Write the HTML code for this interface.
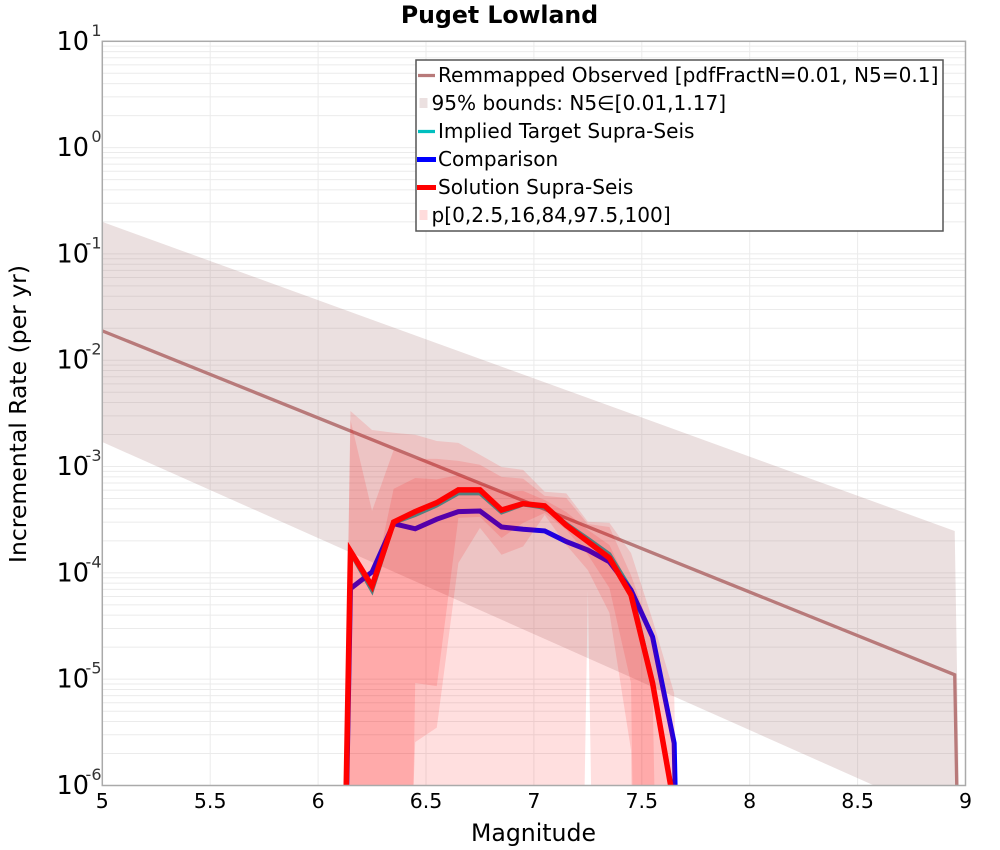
<!DOCTYPE html>
<html>
<head>
<meta charset="utf-8">
<title>Puget Lowland</title>
<style>
html,body{margin:0;padding:0;background:#fff;width:1000px;height:850px;overflow:hidden;}
svg{display:block;font-family:"DejaVu Sans","Liberation Sans",sans-serif;}
</style>
</head>
<body>
<svg id="chart" xmlns="http://www.w3.org/2000/svg" width="1000" height="850" viewBox="0 0 1000 850">
  <defs><clipPath id="plot-clip"><rect x="102.3" y="41.3" width="863.2" height="744.2"></rect></clipPath></defs>
  <text x="499.5" y="23" text-anchor="middle" font-size="23.6" font-weight="bold" fill="#000">Puget Lowland</text>
  <g id="grid"></g>
  <g id="series" clip-path="url(#plot-clip)"></g>
  <rect x="102.3" y="41.3" width="863.2" height="744.2" fill="none" stroke="#aaaaaa" stroke-width="1.5"></rect>
  <g id="ticks"></g>
  <text x="533.5" y="841" text-anchor="middle" font-size="23.6" fill="#000">Magnitude</text>
  <text transform="translate(26,414) rotate(-90)" text-anchor="middle" font-size="23.5" fill="#000">Incremental Rate (per yr)</text>
  <g>
    <rect x="416" y="60" width="527" height="171" fill="#fff" stroke="#555555" stroke-width="1.5"></rect>
    <line x1="418" x2="435" y1="75.5" y2="75.5" stroke="#b87a7a" stroke-width="3.3"></line>
    <text x="438" y="82" font-size="20.08">Remmapped Observed [pdfFractN=0.01, N5=0.1]</text>
    <rect x="419.5" y="98" width="8" height="10" fill="#ebe0e0"></rect>
    <text x="431.5" y="110" font-size="20.08">95% bounds: N5∈[0.01,1.17]</text>
    <line x1="418" x2="435" y1="131.5" y2="131.5" stroke="#00bfbf" stroke-width="3.3"></line>
    <text x="438" y="138" font-size="20.08">Implied Target Supra-Seis</text>
    <line x1="417" x2="436" y1="159.5" y2="159.5" stroke="#0000ff" stroke-width="5"></line>
    <text x="438" y="166" font-size="20.08">Comparison</text>
    <line x1="417" x2="436" y1="187.5" y2="187.5" stroke="#ff0000" stroke-width="5"></line>
    <text x="438" y="194" font-size="20.08">Solution Supra-Seis</text>
    <rect x="419.5" y="210" width="8" height="10" fill="#ffdcdc"></rect>
    <text x="431.5" y="222" font-size="20.08">p[0,2.5,16,84,97.5,100]</text>
  </g>
</svg>
<script>
// Axis tick data
const xTickLabels = ["5","5.5","6","6.5","7","7.5","8","8.5","9"];
const yTickExponents = [1,0,-1,-2,-3,-4,-5,-6];
const xDomain = [5, 9];
const yDomainExp = [-6, 1];

// Observed model and its 95% bounds
const obsMags = [5.0, 8.95, 9.05];
const obsRates = [1.89e-2, 1.1e-5, 1e-16];
const boundMags = [5.0, 8.95, 9.05];
const boundUpper = [0.2, 2.48e-4, 1e-16];
const boundLower = [1.7e-3, 4.6e-7, 1e-16];

// Binned series, one value per magnitude
const mags = [6.05,6.15,6.25,6.35,6.45,6.55,6.65,6.75,6.85,6.95,7.05,7.15,7.25,7.35,7.45,7.55,7.65,7.75];
const targetRates = [1e-15,1.55e-4,6.8e-5,2.95e-4,3.5e-4,4.3e-4,5.6e-4,5.6e-4,3.7e-4,4.4e-4,4.1e-4,2.9e-4,2.1e-4,1.5e-4,7e-5,9.5e-6,7e-7,1e-15];
const comparisonRates = [1e-15,7.1e-5,1.02e-4,2.9e-4,2.6e-4,3.2e-4,3.77e-4,3.82e-4,2.7e-4,2.57e-4,2.48e-4,1.97e-4,1.64e-4,1.27e-4,6.9e-5,2.5e-5,2.5e-6,1e-15];
const solutionRates = [1e-15,1.6e-4,7.5e-5,3.0e-4,3.77e-4,4.57e-4,6.03e-4,6.03e-4,3.9e-4,4.48e-4,4.27e-4,2.8e-4,1.97e-4,1.38e-4,6.2e-5,9.2e-6,6.5e-7,1e-15];

// Fractile envelopes
const p0 = [1e-30,1e-30,1e-30,1e-30,1e-30,1e-30,1e-30,1e-30,1e-30,1e-30,1e-30,3e-17,6.9e-5,3e-17,1e-30,1e-30,1e-30,1e-30];
const p100 = [1e-15,3.33e-3,2.21e-3,2.08e-3,1.99e-3,1.74e-3,1.67e-3,1.29e-3,9.9e-4,9.3e-4,5.8e-4,5.6e-4,3.03e-4,2.95e-4,1.54e-4,3.6e-5,7.4e-6,1e-15];
const p2_5 = [1e-30,1e-30,1e-30,1e-11,2.56e-6,3.5e-6,1.24e-4,2.65e-4,1.48e-4,1.77e-4,3.5e-4,1.83e-4,1.06e-4,4.2e-5,2.16e-6,1e-20,1e-30,1e-30];
const p97_5 = [1e-15,2.75e-3,3.83e-4,1.43e-3,1.18e-3,1.18e-3,1.13e-3,1.04e-3,8.0e-4,7.7e-4,5.3e-4,5.07e-4,2.88e-4,2.7e-4,9.5e-5,2.55e-5,2.4e-6,1e-15];
const p16 = [1e-30,1e-30,1e-30,1e-17,9.2e-6,8.6e-6,3.29e-4,3.36e-4,2.13e-4,2.95e-4,3.66e-4,2.54e-4,1.48e-4,7.2e-5,9.2e-6,1e-20,1e-30,1e-30];
const p84 = [1e-15,1.48e-4,6.9e-5,6.17e-4,7.8e-4,7.57e-4,8.3e-4,7.0e-4,5.8e-4,5.9e-4,4.85e-4,3.74e-4,2.54e-4,1.83e-4,6.9e-5,7.9e-6,1e-16,1e-30];

const NS = "http://www.w3.org/2000/svg";
const plot = {left:102.3, right:965.5, top:41.3, bottom:785.5};
const cutY = plot.bottom + 8;

function xScale(m){
  return plot.left + (m - xDomain[0]) / (xDomain[1] - xDomain[0]) * (plot.right - plot.left);
}
function yScale(r){
  return plot.bottom - (Math.log10(r) - yDomainExp[0]) / (yDomainExp[1] - yDomainExp[0]) * (plot.bottom - plot.top);
}
function make(tag, attrs, parent){
  const el = document.createElementNS(NS, tag);
  for (const k in attrs) el.setAttribute(k, attrs[k]);
  parent.appendChild(el);
  return el;
}
function crossing(a, b){
  const t = (cutY - a[1]) / (b[1] - a[1]);
  return [a[0] + t * (b[0] - a[0]), cutY];
}
// Trim an open line at cutY so far off-scale values stay inside the frame.
function linePath(xs, ys){
  const pts = xs.map((m,i) => [xScale(m), yScale(ys[i])]);
  let d = "", pen = false;
  for (let i = 0; i < pts.length; i++){
    const p = pts[i], inside = p[1] <= cutY;
    if (i > 0){
      const q = pts[i-1], qIn = q[1] <= cutY;
      if (inside !== qIn){
        const c = crossing(q, p);
        d += (qIn ? "L" : "M") + c[0].toFixed(2) + " " + c[1].toFixed(2);
        pen = !qIn;
      }
    }
    if (inside){
      d += (pen ? "L" : "M") + p[0].toFixed(2) + " " + p[1].toFixed(2);
      pen = true;
    }
  }
  return d;
}
// Trim a closed band at cutY the same way.
function bandPoints(xs, up, low){
  const a = xs.map((m,i) => [xScale(m), yScale(up[i])]);
  const b = xs.map((m,i) => [xScale(m), yScale(low[i])]).reverse();
  const poly = a.concat(b), out = [];
  for (let i = 0; i < poly.length; i++){
    const p = poly[i], q = poly[(i + poly.length - 1) % poly.length];
    const pIn = p[1] <= cutY, qIn = q[1] <= cutY;
    if (pIn !== qIn) out.push(crossing(q, p));
    if (pIn) out.push(p);
  }
  return out.map(p => p[0].toFixed(2) + "," + p[1].toFixed(2)).join(" ");
}

// grid
const gridG = document.getElementById("grid");
const gridColor = "#ebebeb";
xTickLabels.forEach(lbl => {
  const x = xScale(parseFloat(lbl));
  const ln = make("line", {x1:x, x2:x, y1:plot.top, y2:plot.bottom, stroke:gridColor, "stroke-width":1}, gridG);
  
  
});
for (let e = yDomainExp[0]; e < yDomainExp[1]; e++){
  for (let k = 1; k <= 9; k++){
    const y = yScale(k * Math.pow(10, e));
    const ln = make("line", {x1:plot.left, x2:plot.right, y1:y, y2:y, stroke:gridColor, "stroke-width":1}, gridG);
    
    
  }
}

// series
const seriesG = document.getElementById("series");

const boundBand = make("polygon", {points:bandPoints(boundMags, boundUpper, boundLower), fill:"rgb(170,125,125)", "fill-opacity":0.235}, seriesG);



const obsLine = make("path", {d:linePath(obsMags, obsRates), fill:"none", stroke:"#b87a7a", "stroke-width":3.3}, seriesG);



const targetLine = make("path", {d:linePath(mags, targetRates), fill:"none", stroke:"#00bfbf", "stroke-width":4, "stroke-miterlimit":20}, seriesG);



const comparisonLine = make("path", {d:linePath(mags, comparisonRates), fill:"none", stroke:"#0000ff", "stroke-width":5, "stroke-miterlimit":20}, seriesG);



const bandMin = make("polygon", {points:bandPoints(mags, p100, p0), fill:"rgb(255,0,0)", "fill-opacity":0.125}, seriesG);



const bandMid = make("polygon", {points:bandPoints(mags, p97_5, p2_5), fill:"rgb(255,0,0)", "fill-opacity":0.125}, seriesG);



const bandInner = make("polygon", {points:bandPoints(mags, p84, p16), fill:"rgb(255,0,0)", "fill-opacity":0.125}, seriesG);



const solutionLine = make("path", {d:linePath(mags, solutionRates), fill:"none", stroke:"#ff0000", "stroke-width":5.5, "stroke-miterlimit":20}, seriesG);



// tick labels
const ticksG = document.getElementById("ticks");
xTickLabels.forEach(lbl => {
  const t = make("text", {x:xScale(parseFloat(lbl)), y:808, "text-anchor":"middle", "font-size":20.5, fill:"#000"}, ticksG);
  t.textContent = lbl;
  
  
});
yTickExponents.forEach(exp => {
  const y = yScale(Math.pow(10, exp));
  const base = make("text", {x:89, y:y + 8.5, "text-anchor":"end", "font-size":25.5, fill:"#000"}, ticksG);
  base.textContent = "10";
  
  
  const sup = make("text", {x:101.5, y:y - 5.5, "text-anchor":"end", "font-size":16, fill:"#333"}, ticksG);
  sup.textContent = String(exp);
  
  
});
</script>
</body>
</html>
